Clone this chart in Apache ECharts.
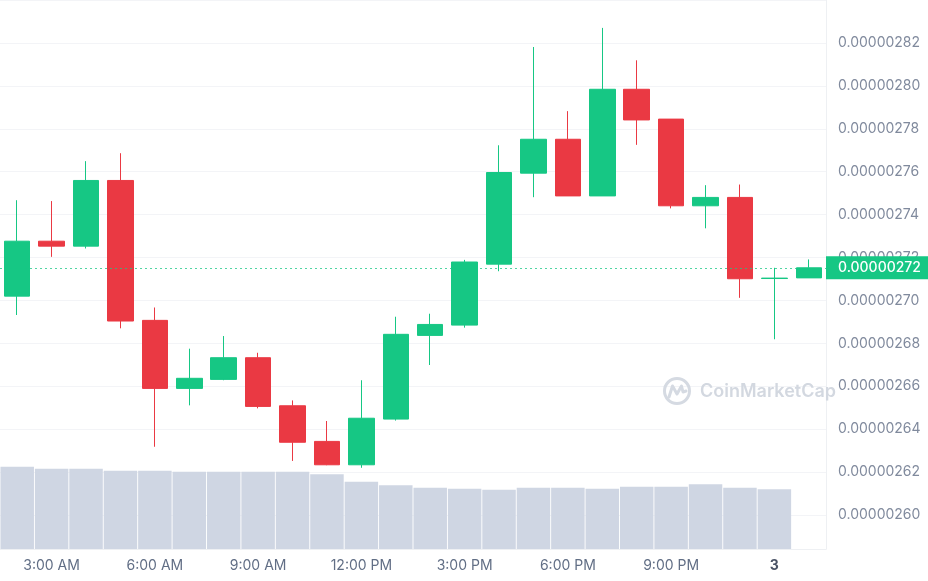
<!DOCTYPE html>
<html><head><meta charset="utf-8">
<script src="https://cdn.jsdelivr.net/npm/echarts@6/dist/echarts.min.js"></script>
<style>html,body{margin:0;padding:0;background:#fff}#c{width:928px;height:581px}</style>
</head><body><div id="c"></div>
<script>
// hourly candles; prices stored in units of 1e-8
const times = ["2:00 AM","3:00 AM","4:00 AM","5:00 AM","6:00 AM","7:00 AM","8:00 AM","9:00 AM","10:00 AM","11:00 AM","12:00 PM","1:00 PM","2:00 PM","3:00 PM","4:00 PM","5:00 PM","6:00 PM","7:00 PM","8:00 PM","9:00 PM","10:00 PM","11:00 PM","3","1:00 AM"];
const openP  = [270.20,272.76,272.53,275.59,269.07,265.90,266.32,267.33,265.09,263.43,262.34,264.47,268.37,268.85,271.69,275.93,277.51,274.87,279.84,278.45,274.41,274.80,271.02,271.05];
const closeP = [272.76,272.53,275.59,269.04,265.90,266.37,267.33,265.06,263.39,262.34,264.51,268.42,268.88,271.79,275.96,277.51,274.87,279.84,278.41,274.41,274.80,271.01,271.04,271.52];
const lowP   = [269.32,272.03,272.42,268.70,263.18,265.11,266.28,264.97,262.52,262.32,262.20,264.40,266.99,268.73,271.36,274.81,274.87,274.87,277.25,274.29,273.36,270.12,268.19,271.05];
const highP  = [274.67,274.63,276.49,276.86,269.67,267.75,268.34,267.56,265.34,264.38,266.28,269.24,269.38,271.89,277.23,281.81,278.82,282.70,281.19,278.45,275.37,275.40,271.52,271.91];
const volume = [82.3,80.3,80.3,78.3,78.3,77.3,77.3,77.3,77.3,74.7,67.3,63.7,61.3,60.3,59.3,61.3,61.3,60.3,62.3,62.3,64.7,61.3,59.7,null];
const lastPrice = 271.52;
const priceMin = 260, priceMax = 284, priceStep = 2;

const fmt = v => (v * 1e-8).toFixed(8);
const candles = openP.map((o, i) => [o, closeP[i], lowP[i], highP[i]]);

const chart = echarts.init(document.getElementById('c'), null, {renderer: 'canvas'});
chart.setOption({
  animation: false,
  backgroundColor: '#fff',
  grid: [
    {left: -2, width: 828, top: -1.3, height: 516.3},
    {left: -2, width: 828, top: 0, height: 549}
  ],
  xAxis: [
    {type: 'category', gridIndex: 0, data: times, show: false},
    {type: 'category', gridIndex: 1, data: times,
     axisLine: {show: true, lineStyle: {color: '#eef0f3'}},
     axisTick: {show: false},
     axisLabel: {
       interval: (idx) => idx % 3 === 1,
       color: '#616e85', fontSize: 14, fontFamily: 'Inter', margin: 10,
       formatter: v => v === '3' ? '{b|3}' : v,
       rich: {b: {fontWeight: 'bold', color: '#4a5366', fontSize: 14, fontFamily: 'Inter'}}
     }}
  ],
  yAxis: [
    {type: 'value', gridIndex: 0, position: 'right', min: priceMin, max: priceMax, interval: priceStep,
     axisLine: {show: false}, axisTick: {show: false},
     splitLine: {lineStyle: {color: '#f3f4f7', width: 1}},
     axisLabel: {color: '#808a9d', fontSize: 14, fontFamily: 'Inter', margin: 12, showMaxLabel: false, formatter: fmt}},
    {type: 'value', gridIndex: 1, position: 'right', min: 0, max: 549,
     axisLine: {show: true, lineStyle: {color: '#eef0f3'}}, axisTick: {show: false},
     axisLabel: {show: false}, splitLine: {show: false}}
  ],
  graphic: [
    {type: 'circle', shape: {cx: 677, cy: 391, r: 12.5}, style: {fill: 'none', stroke: '#d5dae2', lineWidth: 3}, z: 1, silent: true},
    {type: 'polyline', shape: {points: [[669, 397], [672.5, 386], [677, 394], [681.5, 386], [683, 392], [686, 391]]}, style: {fill: 'none', stroke: '#d5dae2', lineWidth: 3, lineJoin: 'round', lineCap: 'round'}, z: 1, silent: true},
    {type: 'text', x: 700, y: 392, style: {text: 'CoinMarketCap', fill: '#d3d8e0', font: '600 18px Inter', verticalAlign: 'middle', align: 'left'}, z: 1, silent: true}
  ],
  series: [
    {type: 'bar', xAxisIndex: 1, yAxisIndex: 1, data: volume, barWidth: 33.5,
     itemStyle: {color: '#cfd6e3'}, silent: true, z: 1},
    {type: 'candlestick', xAxisIndex: 0, yAxisIndex: 0, data: candles, barWidth: 26, z: 3,
     itemStyle: {color: '#16c784', color0: '#ea3943', borderColor: '#16c784', borderColor0: '#ea3943', borderColorDoji: '#16c784', borderWidth: 1},
     markLine: {
       silent: true, symbol: 'none', animation: false,
       lineStyle: {color: 'rgba(22,199,132,0.75)', type: [2, 3], width: 1},
       label: {show: true, position: 'end', distance: 0, formatter: () => fmt(lastPrice),
               backgroundColor: '#16c784', color: '#ffffff', opacity: 1, fontSize: 14, fontFamily: 'Inter', fontWeight: 500,
               padding: [5, 12, 4, 12]},
       emphasis: {disabled: true},
       data: [{yAxis: lastPrice}]
     }}
  ]
});
</script></body></html>
